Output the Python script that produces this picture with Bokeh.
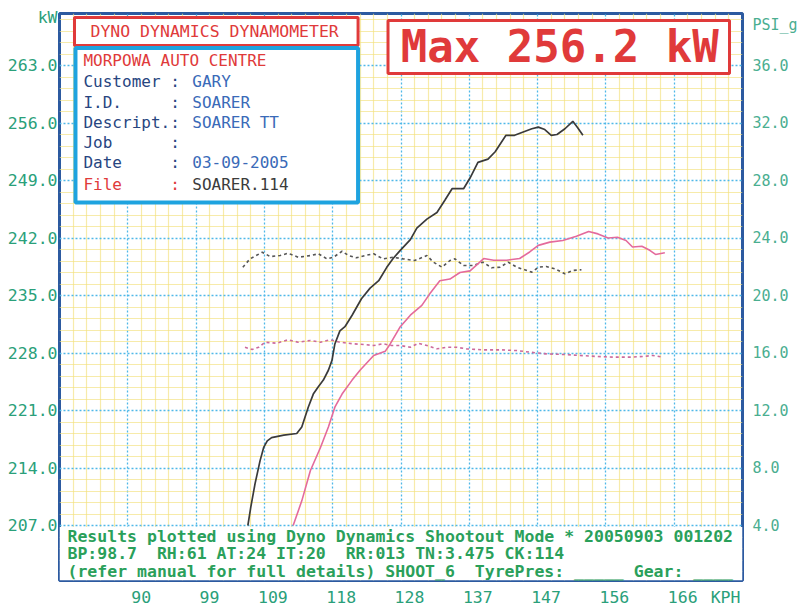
from bokeh.plotting import figure
from bokeh.models import Range1d, LinearAxis, FixedTicker, Label, BoxAnnotation, NumeralTickFormatter
from bokeh.embed import file_html
from bokeh.resources import INLINE

# ---------------- data ----------------
power_speed = [106.7, 107.1, 107.7, 108.4, 108.9, 109.4, 110.0, 111.7, 113.5, 114.2, 115.1, 115.8,
               116.5, 117.2, 117.9, 118.4, 118.8, 119.5, 120.2, 121.2, 122.5, 123.7, 124.9, 126.0,
               126.9, 127.9, 129.3, 130.2, 131.6, 133.0, 134.1, 135.1, 136.7, 137.6, 138.7, 140.1,
               141.1, 142.6, 143.8, 145.0, 146.2, 147.1, 148.0, 148.9, 149.7, 150.8, 151.9, 152.6, 153.3]
power_kw = [207.0, 209.2, 212.1, 214.9, 216.5, 217.3, 217.7, 218.0, 218.2, 219.0, 221.4, 223.0,
            223.9, 224.7, 225.9, 227.1, 229.1, 230.7, 231.2, 232.6, 234.6, 235.9, 236.8, 238.4,
            239.5, 240.5, 241.8, 243.2, 244.3, 245.1, 246.6, 248.0, 248.0, 249.3, 251.2, 251.6,
            252.5, 254.5, 254.5, 254.9, 255.3, 255.5, 255.2, 254.5, 254.6, 255.3, 256.2, 255.4, 254.5]

run2_speed = [113.0, 114.2, 115.4, 116.8, 117.9, 118.8, 119.8, 121.2, 122.3, 124.2, 125.8, 126.5,
              127.9, 129.3, 130.9, 132.0, 133.4, 134.8, 136.2, 137.6, 138.5, 139.5, 140.9, 142.7,
              144.5, 145.9, 147.1, 148.7, 150.5, 152.4, 154.1, 155.4, 156.8, 158.1, 159.3, 160.2,
              161.5, 162.6, 163.4, 164.7]
run2_kw = [207.0, 210.0, 213.7, 216.5, 219.0, 221.4, 223.0, 224.7, 225.9, 227.7, 228.2, 229.1,
           231.2, 232.6, 233.8, 235.2, 236.8, 237.0, 237.8, 238.0, 238.7, 239.5, 239.3, 239.3,
           239.5, 240.3, 241.1, 241.5, 241.7, 242.2, 242.8, 242.5, 242.0, 242.1, 241.7, 240.9,
           241.0, 240.5, 240.0, 240.2]

boost1_speed = [106.0, 107.0, 108.7, 109.8, 111.2, 112.3, 113.7, 115.4, 116.5, 117.7, 118.6, 119.8,
                120.7, 121.8, 123.0, 124.2, 125.5, 126.9, 128.3, 129.9, 131.6, 132.5, 133.7, 134.8,
                135.5, 136.7, 138.0, 139.4, 140.6, 141.8, 142.9, 144.1, 145.2, 146.2, 147.1, 148.2,
                149.4, 150.8, 151.9, 153.1]
boost1_psi = [21.97, 22.55, 23.01, 22.71, 22.78, 22.94, 22.66, 22.78, 22.90, 22.55, 22.66, 23.08,
              22.78, 22.62, 22.78, 22.90, 22.55, 22.66, 22.55, 22.43, 22.78, 22.32, 21.97, 22.43,
              22.55, 22.09, 22.09, 22.32, 21.93, 21.97, 22.32, 21.97, 21.79, 21.62, 21.97, 22.02,
              21.86, 21.51, 21.74, 21.79]

boost2_speed = [106.3, 107.3, 108.2, 109.1, 110.7, 112.3, 113.7, 115.4, 116.8, 118.1, 119.5, 121.4,
                122.8, 124.2, 125.5, 126.7, 127.9, 129.3, 130.4, 131.6, 133.0, 134.3, 135.7, 137.1,
                139.4, 141.8, 144.1, 145.9, 148.2, 150.5, 152.9, 155.2, 157.5, 159.8, 161.7, 163.0, 164.4]
boost2_psi = [16.40, 16.24, 16.40, 16.75, 16.68, 16.92, 16.75, 16.87, 16.75, 16.92, 16.75, 16.64,
              16.59, 16.52, 16.64, 16.52, 16.52, 16.40, 16.68, 16.52, 16.29, 16.40, 16.40, 16.29,
              16.22, 16.22, 16.17, 16.06, 15.94, 15.90, 15.83, 15.76, 15.71, 15.71, 15.76, 15.83, 15.71]

x_ticks = [90, 99.5, 109, 118.5, 128, 137.5, 147, 156.5, 166]
x_tick_labels = ["90", "99", "109", "118", "128", "137", "147", "156", "166"]
kw_ticks = [207, 214, 221, 228, 235, 242, 249, 256, 263]
psi_ticks = [4, 8, 12, 16, 20, 24, 28, 32, 36]
x_unit, kw_unit, psi_unit = "KPH", "kW", "PSI_g"

info_labels = ["Customer", "I.D.", "Descript.", "Job", "Date"]
info_values = ["GARY", "SOARER", "SOARER TT", "", "03-09-2005"]
file_value = "SOARER.114"
max_power = 256.2

# ---------------- layout helpers (page pixel -> data) ----------------
def X(px):
    return 80.5 + (px - 59) * 9.5 / 68.4

def Y(py):
    return 207 + (525 - py) * 7 / 57.5

def P(py):
    return 4 + (525 - py) * 4 / 57.5

MONO = "DejaVu Sans Mono"
GREEN_AX = "#2aa07a"
GREEN_R = "#4aae90"
GREEN_TX = "#2aa05a"
RED = "#e03a3a"
NAVY = "#27457f"
BLUE = "#3a6ab8"
CYAN = "#1ea3df"
FRAME = "#2c5aa0"

p = figure(width=800, height=610, output_backend="svg", toolbar_location=None,
           x_range=Range1d(80.5, 175.5), y_range=Range1d(Y(580), Y(13)),
           x_axis_location=None, min_border_left=59, min_border_right=57,
           min_border_top=13, min_border_bottom=30)
p.background_fill_color = "white"
p.border_fill_color = "white"
p.outline_line_color = FRAME
p.outline_line_width = 3

# grids
x_minor = [round(80.5 + 1.9 * k, 3) for k in range(1, 50) if k % 5]
y_minor = [round(207 + 1.4 * k, 3) for k in range(-4, 45) if k % 5]
p.xgrid.ticker = FixedTicker(ticks=x_ticks, minor_ticks=x_minor)
p.ygrid.ticker = FixedTicker(ticks=kw_ticks, minor_ticks=y_minor)
for g in (p.xgrid, p.ygrid):
    g.grid_line_color = "#4fb8e8"
    g.grid_line_dash = "2 2"
    g.grid_line_width = 1.3
    g.minor_grid_line_color = "#f3e07c"
    g.minor_grid_line_alpha = 0.65
    g.minor_grid_line_width = 1.2

def style_axis(ax, size, color, standoff):
    ax.axis_line_color = None
    ax.major_tick_line_color = None
    ax.minor_tick_line_color = None
    ax.major_tick_out = 0
    ax.major_label_standoff = standoff
    ax.major_label_text_font = MONO
    ax.major_label_text_font_size = size
    ax.major_label_text_color = color

# left axis (kW) with the unit printed at its top
kw_unit_pos = 268.84
ya = p.yaxis[0]
ya.ticker = FixedTicker(ticks=kw_ticks + [kw_unit_pos])
ya.formatter = NumeralTickFormatter(format="0.0")
ya.major_label_overrides = {kw_unit_pos: kw_unit}
style_axis(ya, "16.5px", GREEN_AX, 2)

# right axis (PSI) with the unit printed at its top
psi_unit_pos = 38.85
p.extra_y_ranges = {"psi": Range1d(P(580), P(13))}
ra = LinearAxis(y_range_name="psi", ticker=FixedTicker(ticks=psi_ticks + [psi_unit_pos]),
                formatter=NumeralTickFormatter(format="0.0"))
ra.major_label_overrides = {psi_unit_pos: psi_unit}
style_axis(ra, "15px", GREEN_R, 10)
p.add_layout(ra, "right")

# bottom axis (speed labels, printed slightly right of the grid lines)
shift = 8.5 * 9.5 / 68.4
x_unit_pos = 171.96
p.extra_x_ranges = {"xlab": Range1d(80.5 - shift, 175.5 - shift)}
xa = LinearAxis(x_range_name="xlab", ticker=FixedTicker(ticks=x_ticks + [x_unit_pos]))
ovr = {t: (l if len(l) == 3 else "\u00a0" + l) for t, l in zip(x_ticks, x_tick_labels)}
ovr[x_unit_pos] = x_unit
xa.major_label_overrides = ovr
style_axis(xa, "16.5px", GREEN_AX, 7)
p.add_layout(xa, "below")

# white text panel at the bottom of the frame
p.quad(left=[80.5], right=[175.5], bottom=[Y(580)], top=[Y(526.5)],
       fill_color="white", line_color=None)

# curves
p.line(boost2_speed, boost2_psi, y_range_name="psi", line_color="#cc6a9c",
       line_width=1.6, line_dash="3 3")
p.line(boost1_speed, boost1_psi, y_range_name="psi", line_color="#555555",
       line_width=1.6, line_dash="3 3")
p.line(run2_speed, run2_kw, line_color="#e46a9c", line_width=1.6)
p.line(power_speed, power_kw, line_color="#3a3a3a", line_width=1.7)

# boxes
def box(l, r, t, b, color, w):
    p.add_layout(BoxAnnotation(left=X(l), right=X(r), top=Y(t), bottom=Y(b),
                               fill_color="white", fill_alpha=1,
                               line_color=color, line_alpha=1, line_width=w))

box(74, 358, 17, 45, RED, 3)
box(75, 358, 47.5, 202, CYAN, 4)
box(388, 730, 20, 73, RED, 3)

def lab(px, py, text, color, size="16px", align="left", bold=False):
    p.add_layout(Label(x=X(px), y=Y(py), text=text, text_color=color, text_font=MONO,
                       text_font_size=size, text_align=align, text_baseline="middle",
                       text_font_style="bold" if bold else "normal"))

lab(90, 31, "DYNO DYNAMICS DYNAMOMETER", RED, "16.5px")
lab(83, 59.5, "MORPOWA AUTO CENTRE", RED, "16px")
rows_y = [81, 101.5, 121.5, 141.5, 161.5]
for yy, l, v in zip(rows_y, info_labels, info_values):
    lab(83, yy, l + "\u00a0" * (9 - len(l)) + ":", NAVY, "16px")
    if v:
        lab(192, yy, v, BLUE, "16px")
lab(83, 183.5, "File\u00a0\u00a0\u00a0\u00a0\u00a0:", RED, "16px")
lab(192, 183.5, file_value, "#3b3b3b", "16px")

lab(560, 46, "Max %.1f kW" % max_power, RED, "44px", align="center", bold=True)

# bottom text panel
NB = "\u00a0"
lab(67, 535.5, "Results plotted using Dyno Dynamics Shootout Mode * 20050903 001202", GREEN_TX, "16.5px", bold=True)
lab(67, 553, "BP:98.7" + NB * 2 + "RH:61 AT:24 IT:20" + NB * 2 + "RR:013 TN:3.475 CK:114", GREEN_TX, "16.5px", bold=True)
lab(67, 570.5, "(refer manual for full details) SHOOT_6" + NB * 2 + "TyrePres: _____ Gear: ____", GREEN_TX, "16.5px", bold=True)

open("out.html", "w").write(file_html(p, INLINE))
